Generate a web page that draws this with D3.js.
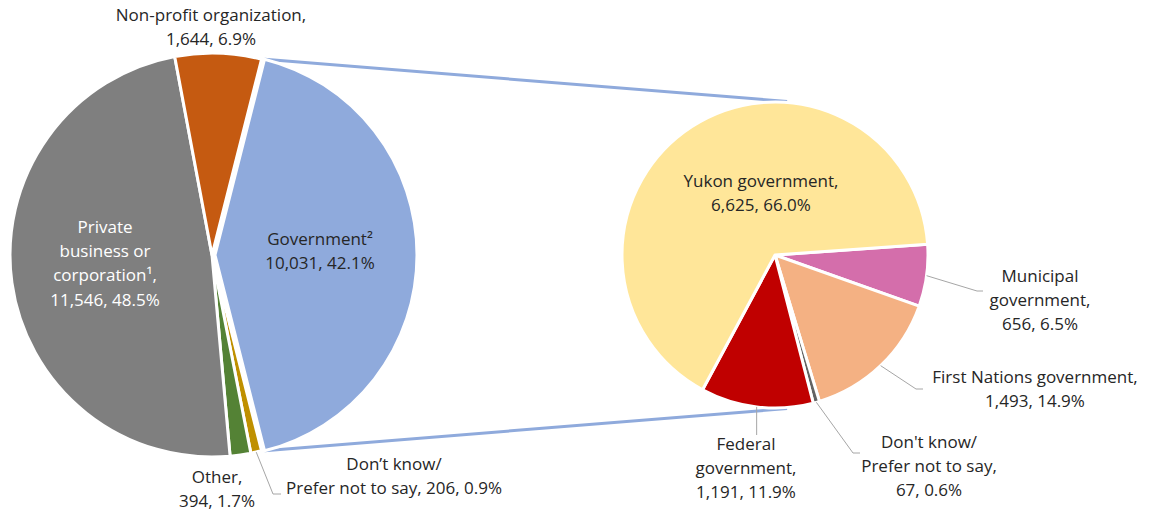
<!DOCTYPE html>
<html>
<head>
<meta charset="utf-8">
<script src="https://cdn.jsdelivr.net/npm/d3@7"></script>
<style>
  * { margin: 0; padding: 0; }
  body { background: #fff; width: 1150px; height: 512px; overflow: hidden; }
  svg { font-family: 'Open Sans', Lato, sans-serif; }
</style>
</head>
<body>
<svg id="chart" width="1150" height="512"></svg>
<script>
// left pie: all employers (clockwise from the top of the Government slice)
const mainNames = ['Government', "Don't know", 'Other', 'Private', 'Non-profit'];
const mainValues = [10031, 206, 394, 11546, 1644];
const mainColors = ['#8faadc', '#bf9000', '#548235', '#7f7f7f', '#c55a11'];
const mainLabels = [
  ['Government²', '10,031, 42.1%'],
  ['Don’t know/', 'Prefer not to say, 206, 0.9%'],
  ['Other,', '394, 1.7%'],
  ['Private', 'business or', 'corporation¹,', '11,546, 48.5%'],
  ['Non-profit organization,', '1,644, 6.9%']
];

// right pie: breakdown of Government
const subNames = ['Municipal', 'First Nations', "Don't know", 'Federal', 'Yukon'];
const subValues = [656, 1493, 67, 1191, 6625];
const subColors = ['#d46eab', '#f4b183', '#636363', '#c00000', '#ffe699'];
const subLabels = [
  ['Municipal', 'government,', '656, 6.5%'],
  ['First Nations government,', '1,493, 14.9%'],
  ["Don't know/", 'Prefer not to say,', '67, 0.6%'],
  ['Federal', 'government,', '1,191, 11.9%'],
  ['Yukon government,', '6,625, 66.0%']
];

const svg = d3.select('#chart');
const deg = Math.PI / 180;
const lineH = 24.2;
const textColor = '#262626';

const L = { cx: 212, cy: 255, r: 202, explode: 3 };
const R = { cx: 775, cy: 255, r: 153 };

const govAngle = mainValues[0] / d3.sum(mainValues) * 2 * Math.PI;
const mainStart = Math.PI / 2 - govAngle / 2;
const pieMain = d3.pie().sort(null).value(d => d)
  .startAngle(mainStart).endAngle(mainStart + 2 * Math.PI);
const arcsMain = pieMain(mainValues);

const subStart = 86 * deg;
const pieSub = d3.pie().sort(null).value(d => d)
  .startAngle(subStart).endAngle(subStart + 2 * Math.PI);
const arcsSub = pieSub(subValues);

const arcL = d3.arc().innerRadius(0).outerRadius(L.r);
const arcR = d3.arc().innerRadius(0).outerRadius(R.r);

const polar = (cx, cy, r, a) => [cx + r * Math.sin(a), cy - r * Math.cos(a)];

// connector lines between the government slice and the second pie
const gov = arcsMain[0];
const gx = L.cx + L.explode, gy = L.cy;
const p1 = polar(gx, gy, L.r, gov.startAngle);
const p2 = polar(gx, gy, L.r, gov.endAngle);
const q1 = polar(R.cx, R.cy, R.r + 1, 4.5 * deg);
const q2 = polar(R.cx, R.cy, R.r + 1, 175.5 * deg);
svg.append('g').selectAll('line')
  .data([[p1, q1], [p2, q2]])
  .join('line')
  .attr('x1', d => d[0][0]).attr('y1', d => d[0][1])
  .attr('x2', d => d[1][0]).attr('y2', d => d[1][1])
  .attr('stroke', '#8faadc').attr('stroke-width', 3);

// left pie
svg.append('g').attr('transform', `translate(${L.cx},${L.cy})`)
  .selectAll('path').data(arcsMain).join('path')
  .attr('transform', (d, i) => i === 0 ? `translate(${L.explode},0)` : null)
  .attr('d', arcL)
  .attr('fill', (d, i) => mainColors[i])
  .attr('stroke', '#fff').attr('stroke-width', 3).attr('stroke-linejoin', 'round');

// right pie
svg.append('g').attr('transform', `translate(${R.cx},${R.cy})`)
  .selectAll('path').data(arcsSub).join('path')
  .attr('d', arcR)
  .attr('fill', (d, i) => subColors[i])
  .attr('stroke', '#fff').attr('stroke-width', 3).attr('stroke-linejoin', 'round');

// label anchors: centre x and first baseline y (layout only)
const mainPos = [[320, 245, textColor], [394, 470, textColor], [217, 483, textColor],
                 [105, 233, '#ffffff'], [211, 21, textColor]];
const subPos = [[1040, 282], [1035, 383], [929, 448], [746, 450], [761, 187]];

function drawLabel(lines, x, y, color) {
  const t = svg.append('text')
    .attr('text-anchor', 'middle')
    .attr('font-size', 17)
    .attr('fill', color);
  lines.forEach((s, i) => t.append('tspan').attr('x', x).attr('y', y + i * lineH).text(s));
}
mainLabels.forEach((lines, i) => drawLabel(lines, mainPos[i][0], mainPos[i][1], mainPos[i][2]));
subLabels.forEach((lines, i) => drawLabel(lines, subPos[i][0], subPos[i][1], textColor));

// leader lines: from the slice edge to a bend next to the label
const leader = (pts) => svg.append('path')
  .attr('d', d3.line()(pts))
  .attr('fill', 'none').attr('stroke', '#a6a6a6').attr('stroke-width', 1);

const dkMain = arcsMain[1];
const dkMid = (dkMain.startAngle + dkMain.endAngle) / 2;
leader([polar(L.cx, L.cy, L.r, dkMid), [273, 494], [281, 494]]);

const mid = d => (d.startAngle + d.endAngle) / 2;
leader([polar(R.cx, R.cy, R.r, mid(arcsSub[0])), [977, 291], [983, 291]]);
leader([polar(R.cx, R.cy, R.r, mid(arcsSub[1])), [916, 389], [923, 389]]);
leader([polar(R.cx, R.cy, R.r, mid(arcsSub[2])), [853, 453], [860, 453]]);
const fedPt = polar(R.cx, R.cy, R.r, mid(arcsSub[3]));
leader([fedPt, [fedPt[0], 435]]);
</script>
</body>
</html>
